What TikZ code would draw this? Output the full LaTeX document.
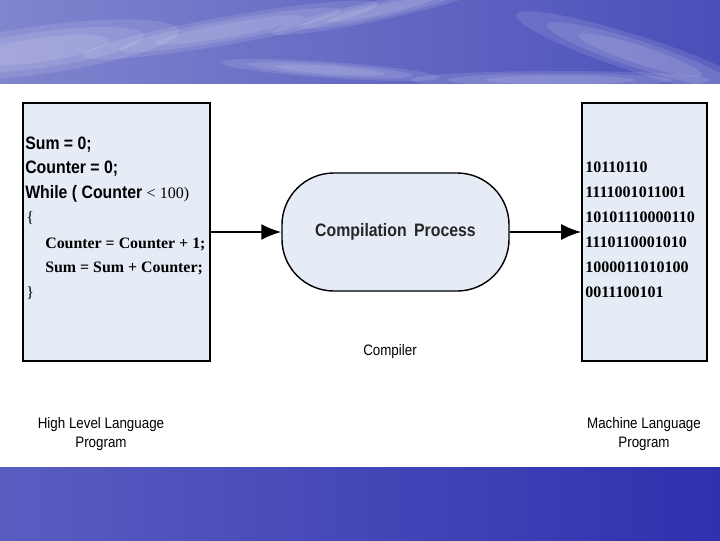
\documentclass[tikz,border=0pt]{standalone}
\usepackage{fontspec}
\setmainfont{Liberation Serif}
\newfontfamily\arialn[FakeStretch=0.88]{Liberation Sans}
\usepackage{tikz}
\usetikzlibrary{positioning,arrows.meta}

\definecolor{cielo}{HTML}{4A4FB9}
\definecolor{cielocl}{HTML}{8185CE}
\definecolor{mar}{HTML}{2F31AE}
\definecolor{marcl}{HTML}{5A5DC0}
\definecolor{fondocaja}{HTML}{E6ECF6}

\tikzset{
  caja/.style={draw=black, line width=1.2pt, fill=fondocaja, inner sep=0pt},
  flecha/.style={line width=1.3pt, -{Latex[length=5mm,width=4mm]}},
  codigo/.style={anchor=west, inner sep=0pt, font=\arialn\bfseries\fontsize{12.8}{14}\selectfont},
  codser/.style={anchor=west, inner sep=0pt, font=\bfseries\fontsize{11.3}{14}\selectfont},
  binario/.style={anchor=west, inner sep=0pt, font=\bfseries\fontsize{11.4}{14}\selectfont},
  etiqueta/.style={align=center, inner sep=0pt, font=\arialn\fontsize{10.8}{14}\selectfont}
}

\begin{document}
\begin{tikzpicture}[x=0.025cm, y=-0.025cm]
    \useasboundingbox (0,0) rectangle (720,540);

    % Fondo: cielo arriba, mar abajo
    \fill[white] (0,0) rectangle (720,540);
    \shade[left color=cielocl, right color=cielo] (0,0) rectangle (720,83);
    \begin{scope}
        \clip (0,0) rectangle (720,83);
        % nubes difusas
        \foreach \cx/\cy/\rx/\ry/\ang in {40/50/140/24/8, 230/30/150/14/10, 380/10/110/10/12,
                                          330/70/110/8/-4, 640/55/130/18/-18, 560/80/150/9/0} {
            \foreach \f in {1, 0.75, 0.5} {
                \fill[white, opacity=0.11] (\cx,\cy) ellipse [x radius=\f*\rx, y radius=\f*\ry, rotate=\ang];
            }
        }
    \end{scope}
    \shade[left color=marcl, right color=mar] (0,467) rectangle (720,540);

    % Cajas y proceso
    \node[caja, minimum width=4.675cm, minimum height=6.45cm] (alto) at (116.5,232) {};
    \node[caja, minimum width=3.125cm, minimum height=6.45cm] (maquina) at (644.5,232) {};
    \node[caja, line width=1pt, rounded corners=1.3cm, minimum width=5.675cm, minimum height=2.95cm,
          font=\arialn\bfseries\fontsize{12.8}{14}\selectfont, text=black!85] (proceso) at (395.5,232)
          {Compilation\, Process};

    % Flechas
    \draw[flecha] (alto.east) -- (proceso.west);
    \draw[flecha] (proceso.east) -- (maquina.west);

    % Programa de alto nivel
    \node[codigo] (l1) at (25,145) {Sum = 0;};
    \node[codigo] (l2) at (25,169) {Counter = 0;};
    \node[codigo] (l3) at (25,194) {While ( Counter {\mdseries\rmfamily\fontsize{11.4}{14}\selectfont < 100)}};
    \node[codser, font=\fontsize{11.3}{14}\selectfont] (l4) at (26,218) {\{};
    \node[codser] (l5) at (45,244) {Counter = Counter + 1;};
    \node[codser] (l6) at (45,268) {Sum = Sum + Counter;};
    \node[codser, font=\fontsize{11.3}{14}\selectfont] (l7) at (26,293) {\}};

    % Programa en lenguaje maquina
    \foreach \b [count=\k] in {10110110, 1111001011001, 10101110000110, 1110110001010, 1000011010100, 0011100101} {
        \node[binario] (b\k) at (585, 142+25*\k) {\b};
    }

    % Textos de abajo
    \node[etiqueta] (compilador) at (390,352) {Compiler};
    \node[etiqueta] (nalto) at (101,434) {High Level Language\\Program};
    \node[etiqueta] (nmaquina) at (644,434) {Machine Language\\Program};
\end{tikzpicture}
\end{document}
